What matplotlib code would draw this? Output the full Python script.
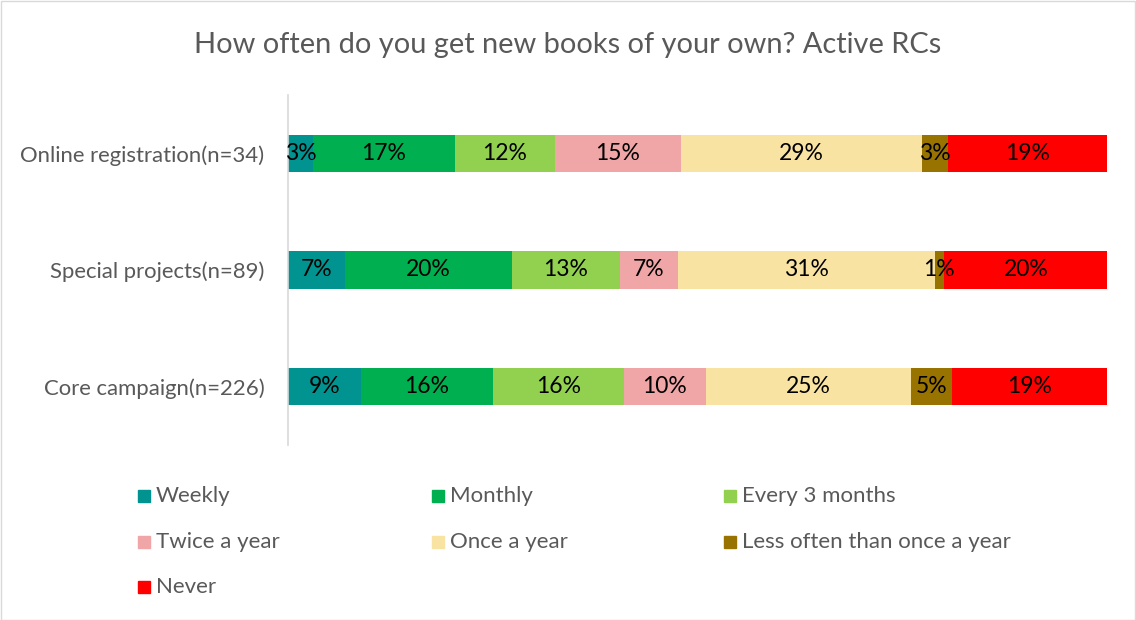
import matplotlib
matplotlib.use("Agg")
import matplotlib.pyplot as plt
from matplotlib.patches import Rectangle

plt.rcParams['font.family'] = ['Lato', 'DejaVu Sans']

title = "How often do you get new books of your own? Active RCs"
categories = ["Online registration(n=34)", "Special projects(n=89)", "Core campaign(n=226)"]
series = ["Weekly", "Monthly", "Every 3 months", "Twice a year", "Once a year",
          "Less often than once a year", "Never"]
colors = ["#00938F", "#00AF50", "#92D050", "#F0A5A7", "#F9E3A2", "#997300", "#FF0000"]
# percentages per series, ordered as categories
weekly = [3.05, 7.0, 8.9]
monthly = [17.3, 20.3, 16.1]
every3 = [12.2, 13.2, 16.0]
twice = [15.4, 7.1, 10.0]
once = [29.4, 31.3, 25.0]
less_often = [3.2, 1.1, 5.0]
never = [19.4, 20.1, 18.9]
values = [weekly, monthly, every3, twice, once, less_often, never]

W, H = 1136, 620
fig = plt.figure(figsize=(W / 100, H / 100), dpi=100)
ax = fig.add_axes([288 / W, 1 - 445 / H, (1107 - 288) / W, (445 - 95) / H])

ypos = list(range(len(categories)))
left = [0.0] * len(categories)
for name, vals, col in zip(series, values, colors):
    bars = ax.barh(ypos, vals, left=left, height=0.32, color=col, label=name)
    for b, v in zip(bars, vals):
        ax.text(b.get_x() + b.get_width() / 2, b.get_y() + b.get_height() / 2,
                f"{round(v):d}%", ha="center", va="center", fontsize=16.5, color="black")
    left = [l + v for l, v in zip(left, vals)]

ax.set_xlim(0, sum(v[0] for v in values))
ax.set_ylim(len(categories) - 0.5, -0.5)
ax.set_yticks(ypos)
ax.set_yticklabels(categories, fontsize=15.9, color="#595959")
ax.tick_params(axis="y", length=0, pad=17)
ax.set_xticks([])
for s in ["top", "right", "bottom"]:
    ax.spines[s].set_visible(False)
ax.spines["left"].set_color("#D9D9D9")
ax.spines["left"].set_linewidth(1.2)

fig.text(0.5, 1 - 45 / H, title, ha="center", va="center", fontsize=20.9, color="#595959")

# legend, 3 columns
col_x = [138, 432, 724]
row_y = [496, 542, 587]
for i, (name, col) in enumerate(zip(series, colors)):
    cx = col_x[i % 3]
    cy = row_y[i // 3]
    fig.patches.append(Rectangle((cx / W, 1 - (cy + 6) / H), 12 / W, 12 / H,
                                 transform=fig.transFigure, color=col))
    fig.text((cx + 18) / W, 1 - cy / H, name, ha="left", va="center",
             fontsize=16, color="#595959")

fig.patches.append(Rectangle((0.5 / W, 0.5 / H), 1 - 1.5 / W, 1 - 1.5 / H,
                             transform=fig.transFigure, fill=False,
                             edgecolor="#D9D9D9", linewidth=1))

fig.savefig("out.png", dpi=100)
